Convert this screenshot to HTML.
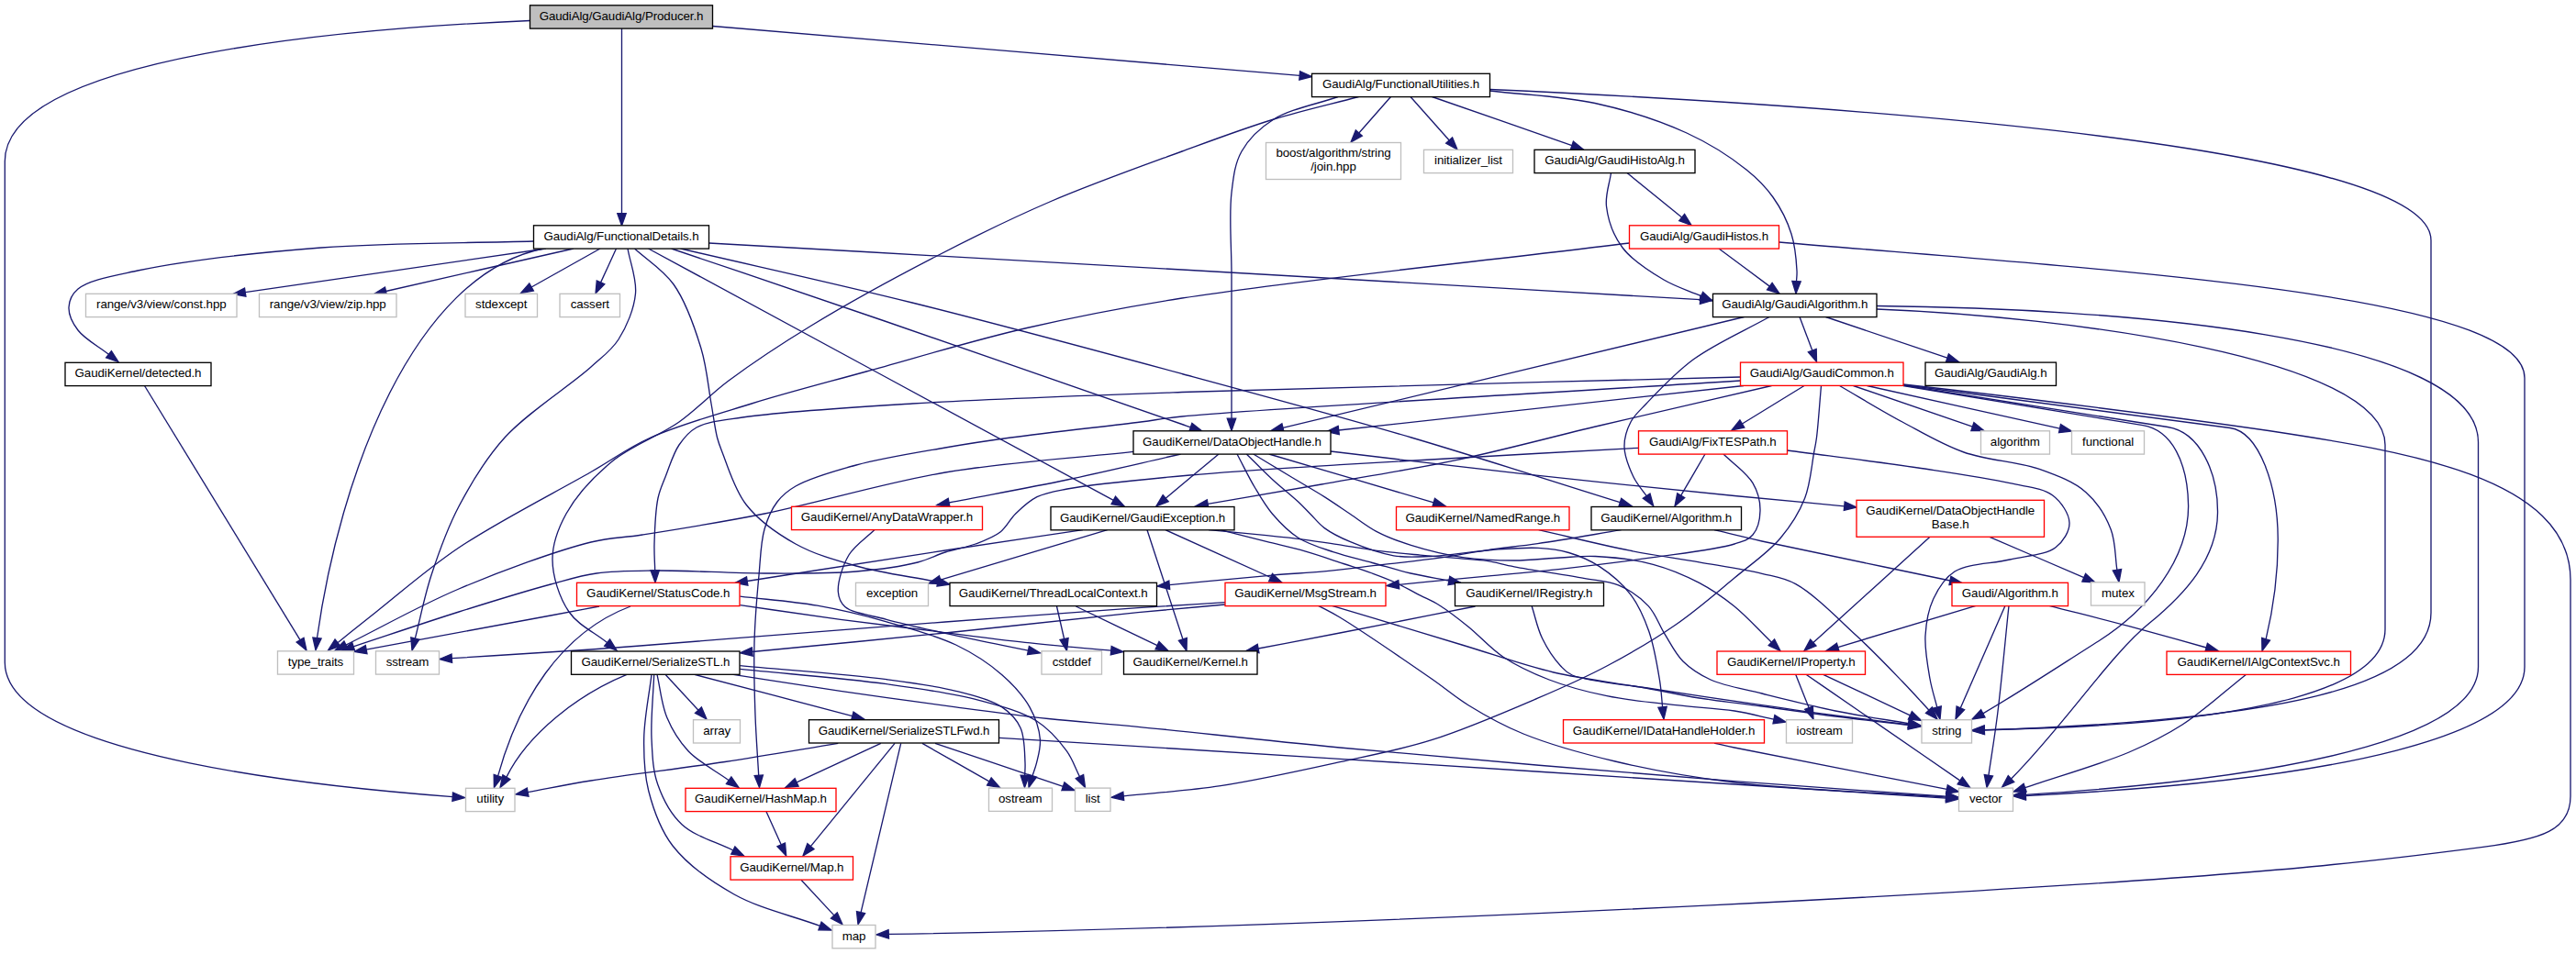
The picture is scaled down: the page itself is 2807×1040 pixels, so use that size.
<!DOCTYPE html>
<html><head><meta charset="utf-8"><title>GaudiAlg/GaudiAlg/Producer.h</title>
<style>
html,body{margin:0;padding:0;background:#fff;}
svg{display:block;}
text{font-family:"Liberation Sans",sans-serif;font-size:13.333px;fill:#000;stroke:none;letter-spacing:-0.1px;}
</style></head><body>
<svg width="2807" height="1040" viewBox="0 0 2807 1040">
<rect width="2807" height="1040" fill="#fff"/>
<g fill="none" stroke="#191970" stroke-width="1.333">
<path d="M577.5,22.5C393,30.4 5.3,60 5.3,176L5.3,722C5.3,828 380,860 493.2,868.6"/>
<path d="M677.5,31C677.5,98.2 677.5,165.4 677.5,232.7"/>
<path d="M776.5,28.5C989.7,46.5 1203,64.4 1416.2,82.4"/>
<path d="M581.5,263C504.3,265.3 424.2,264.3 350,270C280.8,275.4 198.1,284.7 150,295C122.1,301 96.6,305.2 85,315C78.4,320.6 75.3,327.9 75,335C74.7,342.8 79.2,352.3 85,360C92.3,369.7 107.3,377.5 118.5,386.3"/>
<path d="M595,271C485.7,286.9 376.5,302.7 267.2,318.6"/>
<path d="M625,271C556.8,286.5 488.7,302 420.5,317.5"/>
<path d="M654,271C629,285 604.1,299 579.1,313"/>
<path d="M671.5,271C665.9,283.3 660.2,295.6 654.6,307.9"/>
<path d="M592,271C450,300 370,520 345.5,695.5"/>
<path d="M684,271C686.8,287.3 694,303.8 692.5,320C691,336.8 682.8,356.2 674,370C666.1,382.3 657.2,388.1 644,400C621.7,420.2 574.9,449.5 550,477C528.6,500.7 513.5,526.3 500,552C487.2,576.4 478.1,602.3 470,627C462.4,650.3 458.2,673.1 452.3,696.1"/>
<path d="M691.5,271C705.7,284 722.4,293.6 734,310C747.4,328.8 757.1,357.2 764,380C770.2,400.4 771.8,422.4 775,440C777.5,453.8 779,467.3 781.5,477C783.2,483.5 784.3,486.1 787,493C792.3,506.3 800.2,533.6 813,550C826.4,567.2 847.1,581.9 867,593C887.1,604.2 909.1,610.4 933,617C960.2,624.6 992.3,628.6 1021.9,634.4"/>
<path d="M706.5,271C875.4,362.5 1044.4,453.9 1213.3,545.4"/>
<path d="M731.5,271C809,297.3 880.1,321.2 964,350C1063.1,384 1256.6,451.7 1288,462.5C1293.3,464.3 1294.3,464.6 1297.4,465.7"/>
<path d="M741.5,271C825.7,290.7 906.8,308.3 994,330C1088.4,353.5 1194.1,382.1 1288,407.5C1374.8,431 1456.8,453.1 1538,477C1615.7,499.9 1689.5,524.2 1765.3,547.7"/>
<path d="M772.5,265C944.3,274.7 1112.3,284 1288,294C1471.9,304.5 1664.5,315.8 1852.7,326.7"/>
<path d="M1480.5,105.5C1449.7,113.7 1419.2,120.4 1388,130C1355.1,140.1 1324.3,151.7 1288,165C1244.3,181 1189.9,200.3 1144,220C1100.5,238.7 1061.1,258.2 1019,280C974.5,303 924,330.6 884,355C850.5,375.4 819.8,395.8 794,415C773.2,430.5 760,445.9 740,460C718.1,475.5 687.9,485.7 667,503C647.2,519.4 627.9,540.4 617,560C608,576.3 601.9,592.8 602,610C602.1,628.4 609.5,651.7 620,667C629.9,681.5 647.8,689.4 661.6,700.6"/>
<path d="M1458,105.5C1434.7,113.7 1406.4,118.5 1388,130C1373,139.4 1360.7,151.4 1353,165C1345.6,178.2 1344.1,192.3 1342,210C1339,234.7 1342,266.7 1342,300C1342,341.5 1342,416.3 1342,440C1342,448 1342,450.8 1342,456.2"/>
<path d="M1515.5,105.5C1503.9,118.7 1492.4,131.8 1480.8,145"/>
<path d="M1537,105.5C1551.1,121.3 1565.1,137.2 1579.2,153"/>
<path d="M1560.5,105.5C1611.3,123.2 1662.1,140.9 1712.9,158.6"/>
<path d="M1623.5,99C1661.7,103.5 1701.5,104.5 1738,112.5C1772.9,120.1 1808.9,131.6 1838,145C1862.8,156.4 1886.3,171.6 1903,185C1915.4,194.9 1923.9,203.6 1932,215C1940.4,226.8 1947.7,241.3 1952,255C1956.1,268 1957.5,285.6 1958,295C1958.3,300 1957.7,302.8 1957.5,306.7"/>
<path d="M1623.5,97.5C1900,110 2649,150 2649,262L2649,668C2649,750 2480,785 2162.3,796"/>
<path d="M1773,188.5C1792.9,204.7 1812.8,220.9 1832.7,237.1"/>
<path d="M1755.5,188.5C1753.8,200.7 1749,212.4 1750.5,225C1752.2,239.4 1758.3,257 1768,270C1778.5,284.1 1797.8,296 1813,305C1826.4,313 1840.2,316.8 1853.8,322.7"/>
<path d="M1873,271C1891.4,284.7 1909.9,298.4 1928.3,312.1"/>
<path d="M1775.5,265C1613,285 1408.2,306.1 1288,325C1216.8,336.2 1175.6,344.4 1119,357.5C1060.9,370.9 997.4,390.3 944,405C898.8,417.5 859.2,427.6 819,440C781,451.7 740.3,462.9 709,477C683.8,488.3 669.9,499.6 644,514.5C605.4,536.7 541.5,569.1 500,597C465.6,620.1 434.3,647.8 410,667C393.3,680.2 381.9,689.4 367.9,700.7"/>
<path d="M1938.5,264C2300,295 2751,320 2751,412L2751,727C2751,800 2560,850 2207.3,867.5"/>
<path d="M1900.5,345.5C1733,385.8 1565.5,426.1 1398,466.4"/>
<path d="M1928,345.5C1900.3,361 1868.4,374.8 1845,392C1824.9,406.8 1806.2,427.2 1794,440C1786.5,447.9 1781,452.3 1777,460C1772.9,467.9 1769.8,477.6 1770,487C1770.2,497.5 1775.5,510.6 1780,520C1783.9,528 1789.4,533.8 1794.2,540.7"/>
<path d="M1961,345.5C1965.6,357.7 1970.2,369.9 1974.8,382"/>
<path d="M1989.5,345.5C2033.6,360.4 2077.7,375.3 2121.9,390.2"/>
<path d="M2045,333.5C2300,336 2700.5,365 2700.5,482L2700.5,727C2700.5,795 2540,845 2207.3,866.3"/>
<path d="M2045,337C2250,345 2599,390 2599,485L2599,686C2599,745 2480,790 2162.3,795.6"/>
<path d="M1896.5,411C1693.7,416.5 1454.3,421.7 1288,427.5C1172.4,431.5 1080.7,434.6 994,440C925.2,444.3 851,448.7 809,455C786.9,458.3 771.1,459.4 759,466C750.3,470.8 745.4,477.1 740,485C733.6,494.4 729.1,509.5 725,520C721.7,528.4 719,533.7 717,543C714.2,556.3 713.4,578.6 713,593C712.7,603.9 713.5,612.1 713.7,621.7"/>
<path d="M1896.5,415C1693.7,428 1374.7,445.5 1288,454C1264.4,456.3 1262.2,457.6 1243,460C1209,464.3 1140.7,471.6 1101.5,477C1073.6,480.8 1055.6,483.5 1030,488C1000.1,493.2 962,499.2 933,507C908.6,513.6 882.1,521.4 867,530C857.7,535.3 852.5,539.8 847,547C840.8,555.1 836.3,565.4 833,577C828.9,591.3 828.7,608.7 827,627C824.9,649 822.7,675.1 822,700C821.3,726 822.1,754.7 823,780C823.8,802.9 825.5,823.5 826.7,845.2"/>
<path d="M1900,420.5C1752.9,436.7 1605.8,452.9 1458.8,469"/>
<path d="M1930.5,420.5C1868,435 1802.6,449.9 1743,464C1688.5,476.9 1638,490.8 1586.6,501.6C1537.1,512 1486.8,519.7 1440,528C1397,535.6 1357.4,542.3 1316.1,549.4"/>
<path d="M1966,420.5C1943.5,434.3 1920.9,448.2 1898.4,462"/>
<path d="M1984.5,420.5C1982.8,439.3 1981.2,463.9 1979.5,477C1978.6,484 1978,486.2 1976.7,493C1974.4,505.1 1972.8,527.4 1966.7,543C1960.6,558.6 1951.6,573 1940,586.7C1926.8,602.3 1907.8,615.2 1890,630C1870.2,646.4 1849.1,665 1826.4,680.7C1802.8,697.1 1776.5,712.4 1751,726C1726.2,739.2 1703.5,749.2 1675.5,761.2C1641.3,775.9 1597.5,794.9 1560,806.7C1525.9,817.5 1495.6,822.9 1460,830.7C1419.6,839.6 1371.2,850.4 1330,856.7C1293.1,862.3 1259.5,864.2 1224.3,867.9"/>
<path d="M2004.5,420.5C2027.3,433.7 2050.1,447.8 2073,460C2095.3,471.9 2115.9,484.5 2140,493C2165.7,502.1 2199.3,503.2 2223,511.7C2242.2,518.6 2260,525.2 2273,536.7C2285.1,547.3 2294.4,562.3 2300,576.7C2305.5,590.6 2304.6,606.5 2306.9,621.3"/>
<path d="M2019.5,420.5C2062.8,435.4 2106.1,450.3 2149.4,465.2"/>
<path d="M2034.5,420.5C2104.5,436 2174.5,451.6 2244.5,467.1"/>
<path d="M2074,420.5L2335,463.7C2367,469 2384,505 2384.6,551.3C2385,610 2340,665 2287,698.7C2250,722 2200,755 2160.8,777.8"/>
<path d="M2074,420L2362,465.5C2397,471 2417,515 2416.5,559.3C2416,610 2380,648 2342.8,678.8C2300,713 2250,790 2191.5,849"/>
<path d="M2074,419.5L2430,466.5C2462,471 2482,530 2482.2,587.2C2482.4,630 2476,668 2469.1,696.8"/>
<path d="M2074,419C2200,433 2380,456 2472,469.5C2620,492 2801,520 2801,632L2801,868C2801,905 2770,915 2705.7,923.4C2640,932 2600,937 2542,942.5C2300,968 1500,1010 968.3,1018.4"/>
<path d="M1785.3,488.3C1676.9,494.4 1549.9,501 1460,506.7C1396.3,510.7 1348.4,513.3 1296.7,518C1249.9,522.2 1192.5,527.5 1163,533C1148.2,535.8 1139.6,536.9 1130,541.7C1121,546.2 1113.5,553.4 1106.7,560C1100.3,566.2 1096.9,574.6 1090,580C1082.6,585.8 1072.6,589.4 1063,593C1052.7,596.8 1040.7,598.6 1030,602C1019.7,605.3 1012.2,609.9 1000,613C982.3,617.5 957.6,620.9 933,623C903.1,625.5 867.9,625.1 833,625C794.8,624.9 746.6,621.6 713,622C688.6,622.3 669.7,622.2 650,625C632.2,627.5 619.4,631.8 600,637C572.3,644.5 534.4,656.2 500,667C463,678.7 423.4,692.2 385.2,704.8"/>
<path d="M1858,495C1849.2,510.1 1840.5,525.1 1831.7,540.2"/>
<path d="M1878,495C1888.7,505.6 1903.4,515.3 1910,526.7C1915.5,536.1 1918.2,547.1 1918,556.7C1917.8,565.8 1915.2,576.9 1910,583C1905.4,588.5 1899.4,590 1890,593C1871.2,599.1 1831.8,603.3 1801.3,607.7C1768.8,612.4 1732.3,616.8 1700.6,620.3C1672.3,623.4 1648,625.4 1620,628.1C1589.5,631 1556.2,634.2 1524.3,637.3"/>
<path d="M1947.3,491C1994.9,497.3 2046.7,503.5 2090,510C2126.3,515.5 2163.1,520.6 2190,526.7C2208.6,530.9 2225.7,531.6 2236.7,540C2246.1,547.1 2254.8,560.2 2255,570C2255.2,579.1 2248.4,590.2 2240,596.7C2229.1,605.2 2207.5,605.8 2190,610C2171,614.6 2144.3,614 2130,623C2118.7,630.1 2112,641.6 2106.7,653C2101.2,664.8 2098.8,679.1 2098,693C2097.2,708 2100.5,726 2103,740C2105,751.5 2108.2,760.7 2110.8,771.1"/>
<path d="M1235,492.3C1166.7,499.9 1097.3,503.6 1030,515C963.4,526.3 892.4,548.1 833,560C784.5,569.7 734.9,577.5 700,583C677.4,586.6 666.7,585.4 644,591C606.8,600.2 545.6,622.7 500,642C456.8,660.3 418,682.7 376.9,703.1"/>
<path d="M1286.7,495C1245.5,504.3 1204.7,514.2 1163,523C1120.5,531.9 1077.1,539.6 1034.1,548"/>
<path d="M1328,495C1308.7,511.1 1289.5,527.1 1270.2,543.2"/>
<path d="M1382.8,495C1442.6,512.6 1502.4,530.3 1562.2,547.9"/>
<path d="M1450,492C1520,500.2 1588.4,508.8 1660,516.7C1734.9,525 1825.7,534.2 1890,540.5C1936.4,545.1 1969.8,548 2009.7,551.8"/>
<path d="M1365.8,495C1379,503 1392.4,511.1 1405.5,519C1418.2,526.7 1431.6,534.3 1443.2,541.6C1453.4,548.1 1462.1,554.2 1471.5,560.5C1480.9,566.8 1489.4,573.8 1499.8,579.3C1511.2,585.3 1523.5,590 1537.5,594.4C1554.3,599.7 1575.1,604.8 1594,607.6C1612.6,610.3 1631.9,611 1650,611C1667.1,611 1684.4,608.8 1700,608C1713.6,607.3 1724.1,605.8 1738.4,606.5C1756.8,607.4 1781.8,610.1 1801.3,615.3C1819.3,620.1 1836.4,627.4 1851.6,635.4C1865.5,642.7 1876.9,650.6 1889.3,660.6C1903.2,671.8 1916.7,687 1930.4,700.2"/>
<path d="M1358.3,495C1367.7,504.2 1377,513.9 1386.6,522.7C1395.9,531.3 1407.4,540.2 1414.9,547.3C1420.2,552.3 1423.5,556 1428,560.5C1432.9,565.4 1436.9,571 1443.2,575.6C1450.9,581.3 1460.6,586.1 1471.5,590.7C1485,596.4 1503.5,603.3 1518.7,605.8C1532.3,608.1 1543.5,607.1 1558.4,606.5C1577.9,605.7 1604.8,601 1625.6,599.5C1643.6,598.2 1660.9,596.6 1675.9,597.4C1688.3,598.1 1698.5,599.3 1709.5,602.5C1720.9,605.9 1732.3,610.6 1743,617.6C1754.8,625.3 1767.6,636 1776.6,647.8C1785.5,659.5 1791.5,673.3 1796.7,688C1802.5,704.3 1806,726.5 1808.5,741.7C1810.3,752.8 1810.6,761.1 1811.6,770.7"/>
<path d="M1348,495C1354.6,507.3 1360.9,520.7 1367.7,532C1373.7,542.1 1378.8,551.2 1386.3,560C1394.3,569.4 1403.7,579.3 1414.6,586.2C1425.9,593.4 1440.1,597.4 1453.4,601.9C1467,606.5 1481.3,609.6 1495.3,613.5C1509.3,617.3 1523.2,621.7 1537.2,625C1551.1,628.2 1565,630.3 1578.9,633"/>
<path d="M953,577.5C943.7,586.7 931.6,594 925,605C918.2,616.4 912.6,634.7 913.3,645C913.8,651.8 915.7,656.9 920.8,661.4C929.1,668.6 948.9,670.7 966,675.3C987.9,681.2 1016.1,687.3 1041.6,692.9C1067.6,698.6 1094.2,703.7 1120.4,709.1"/>
<path d="M1250,577.7C1263,617.4 1275.9,657.1 1288.9,696.8"/>
<path d="M1270,577.7C1308.2,595 1346.4,612.2 1384.6,629.5"/>
<path d="M1180,577.7C1130,585.1 1084.5,591.7 1030,600C964.6,609.9 886.1,622.3 814.2,633.5"/>
<path d="M1206.7,577.7C1146.1,595.9 1085.4,614 1024.8,632.2"/>
<path d="M1330,577.7C1346.7,581.9 1364.1,586.4 1380,590.4C1394.6,594.1 1408,596.9 1421.9,600.9C1436,604.9 1450.9,610.2 1463.9,614.5C1475.1,618.2 1485.4,621.3 1495.3,625C1504.5,628.4 1512.9,631.5 1521.5,635.5C1530.3,639.6 1539.4,644.8 1547.7,649.1C1555.1,652.9 1561.2,655.3 1568.7,660C1578.3,666 1589.3,674.6 1600,683.2C1612.2,693 1623.6,706.6 1637.7,716C1652.7,726 1669.9,734 1688,741C1707.5,748.5 1728.9,754.2 1751,758.7C1774.8,763.6 1802.3,765.9 1826.4,768.7C1848.5,771.3 1870.9,772 1890,775C1905.8,777.5 1918.6,781.1 1933,784.2"/>
<path d="M1317,577.7C1338,579.7 1361.1,581.7 1380,583.6C1395.4,585.2 1407.9,586.5 1421.9,588.3C1435.9,590.1 1449.9,592.5 1463.9,594.6C1477.9,596.7 1491.8,599.1 1505.8,600.9C1519.7,602.6 1533.7,603.8 1547.7,605.1C1561.7,606.4 1576.8,607.6 1589.6,608.7C1600.5,609.7 1609.9,609.9 1620,611.4C1630.1,612.9 1637.7,615.5 1650,617.8C1669.5,621.5 1704.9,626.6 1725.8,630.4C1740.6,633.1 1751.9,633 1763.5,637.9C1775.4,642.9 1787.7,651.4 1796.2,660.6C1804.2,669.2 1807.6,680.8 1813.8,690.8C1820.2,701 1825.6,712.6 1834,721C1842.4,729.3 1851.9,735.5 1864,741C1879.3,747.9 1899.6,750.9 1920,756C1944.3,762.1 1973.3,769.5 2000,775C2026.5,780.4 2053.2,784.2 2079.9,788.7"/>
<path d="M1172.4,661C1201.9,675.2 1231.5,689.5 1261,703.7"/>
<path d="M1151.5,661C1154.2,672.8 1156.9,684.7 1159.6,696.5"/>
<path d="M806.4,650.1C834.5,653.5 863.4,655.4 890.6,660.2C916.6,664.8 941,670.7 966,677.8C991.4,685 1019.5,692.4 1041.6,703C1060.7,712.2 1078,723.5 1091.9,735.7C1104.1,746.4 1115,758.4 1122,770.9C1128.2,782 1132.5,795.2 1133.4,806.1C1134.1,815.1 1131.3,824.1 1129.6,831.3C1128.3,836.9 1126.5,841 1125,845.8"/>
<path d="M653,661C635.3,664.3 623.3,666.6 600,671C554.6,679.5 466.1,695.7 399.1,708.1"/>
<path d="M687,661C610,690 565,765 542.6,845.9"/>
<path d="M806.4,659.7C842.9,664.9 880.1,670.5 915.8,675.3C950,679.9 982.9,683.7 1016.4,687.9C1049.9,692.1 1084,696.8 1117,700.4C1148.8,703.9 1179.5,706.3 1210.7,709.2"/>
<path d="M1335,659C1303.3,661.9 1277.8,664 1240,667.7C1183.7,673.3 1100,682.9 1030,690C960,697.1 889.8,703.7 819.8,710.5"/>
<path d="M1335,656.7C1303.3,658.7 1277.9,660.1 1240,662.7C1183.7,666.5 1102.3,672.5 1030,678C952.7,683.8 860.1,691.3 790,696.7C735.3,700.9 693.1,704.5 644,708C593.9,711.5 542.9,714.4 492.3,717.7"/>
<path d="M1451.5,660.3C1498.7,674.5 1549.9,690 1593,703C1629.2,713.9 1659.4,725.1 1693,733C1726.1,740.7 1764.1,744.8 1793,750C1815.1,754 1831.3,757.8 1851.6,761C1873.5,764.5 1896.3,766.8 1920,770C1945.6,773.4 1973.3,777.6 2000,781C2026.6,784.4 2053.2,787.3 2079.8,790.4"/>
<path d="M1436.6,660.3C1444.4,664.5 1449.7,666.8 1460,673C1481.9,686.3 1534.3,722.2 1560,740C1576.4,751.4 1585,759.4 1600,768.7C1617.6,779.6 1637,790.6 1660,800C1688.6,811.6 1724.2,821.5 1760,830C1800.2,839.6 1840.3,846.9 1890,853C1955.8,861.1 2043.8,863.7 2120.7,869.1"/>
<path d="M1607.5,661C1558.3,670.7 1503,681.7 1460,690C1426.6,696.5 1400.7,701.3 1371.1,707"/>
<path d="M1669.2,661C1673,672.6 1675.2,684.9 1680.5,695.8C1685.7,706.6 1694.1,719 1700.6,726C1704.9,730.7 1706.5,733 1713.2,736C1728.9,743 1769.7,746 1801.3,751C1837.9,756.8 1884.3,763.5 1920,768.7C1949.3,773 1973.3,776.5 2000,780C2026.6,783.5 2053.2,786.6 2079.8,789.9"/>
<path d="M1868,577.7C1885.3,581.8 1896.9,584.8 1920,590C1965.7,600.2 2056.6,618.6 2125,633"/>
<path d="M1766.7,577.7C1736.3,582.7 1702.2,588.7 1675.5,592.6C1654.7,595.6 1638.1,597.1 1620,599.8C1602.5,602.4 1586.7,605.7 1568.7,608.2C1548.8,611 1526.8,613.1 1505.8,615.6C1484.8,618 1463.3,621 1442.9,622.9C1423.6,624.7 1408.3,625.2 1386.3,627.1C1355.3,629.7 1311.6,634.2 1274.3,637.7"/>
<path d="M1676.7,577.7C1709.8,585.2 1745.1,594.1 1776,600.2C1802.8,605.5 1827,608.5 1851.6,612.8C1875,616.9 1900.8,620.6 1920,625.3C1934.2,628.8 1943.5,629.4 1956.7,636.7C1976.6,647.6 2002.8,674.4 2023,693C2041.2,709.8 2058.7,728.2 2073,743C2084.1,754.5 2092.3,763.8 2101.9,774.2"/>
<path d="M2168,585.3C2202.3,600.1 2236.5,614.9 2270.8,629.7"/>
<path d="M2103,585.3C2060.6,623.7 2018.3,662.1 1975.9,700.5"/>
<path d="M2153,660.3C2102.9,675.4 2052.8,690.5 2002.8,705.6"/>
<path d="M2185,660.3C2168.8,697.5 2152.6,734.6 2136.3,771.8"/>
<path d="M2189,660.3C2184.9,699.5 2180.9,744.2 2176.7,778C2173.5,803.6 2170.2,822.9 2166.9,845.3"/>
<path d="M2233,660.3C2262,667.8 2291.3,675 2320,682.7C2348.3,690.3 2376.1,698.2 2404.2,706"/>
<path d="M1956.7,735.3C1961.5,747.4 1966.3,759.5 1971.1,771.6"/>
<path d="M1986.7,735.3C2018.3,750.1 2049.9,765 2081.4,779.8"/>
<path d="M1968,735.3C1988.7,749.5 2006.6,761.9 2030,778C2060.6,799.1 2100.5,826.6 2135.7,850.9"/>
<path d="M2447.6,735.2C2424.4,753.5 2400.8,775.3 2378,790C2358.4,802.6 2343,810.2 2320,820C2288.9,833.3 2244.4,845.8 2206.6,858.7"/>
<path d="M1868,810C1875.3,811.7 1878.8,812.6 1890,815C1926.3,822.7 2044.3,845.3 2121.4,860.4"/>
<path d="M716,735.3C719.6,750.9 720.8,767.8 726.7,782C732.3,795.5 739.7,807.7 750,818.7C761.5,831 779.5,840 794.2,850.7"/>
<path d="M712.7,735.3C711.8,758.5 709,783.7 710,805C710.9,823.1 711.2,839.4 716.7,855C722.2,870.7 730.4,887 743,898.7C756.9,911.7 780.2,917.6 798.8,927"/>
<path d="M756.7,735.3C814.1,750.4 871.4,765.5 928.8,780.6"/>
<path d="M725,735.3C737,748.3 749,761.2 761,774.2"/>
<path d="M806.4,729.4C859.6,734.8 919,739.2 966,745.7C1003.5,750.9 1037.4,755.5 1066.7,763.3C1090.4,769.6 1112.9,775.4 1129.6,786C1143.5,794.8 1154.2,807.6 1162.3,818.7C1168.9,827.9 1171.7,837.3 1176.5,846.6"/>
<path d="M710,735.3C707.2,758.5 702,782.9 701.7,805C701.4,824.9 701.9,843.1 706.7,862C711.9,882.2 719.2,904.1 733,922C748.8,942.4 774.5,960.7 800,975C827.5,990.4 862.3,997.9 893.5,1009.4"/>
<path d="M806.4,725.6C859.6,730.6 922.7,735.1 966,740.7C995.9,744.6 1019.2,747.6 1041.6,753.3C1060.3,758.1 1079.6,762.7 1091.9,770.9C1101.1,777.1 1107.8,784.2 1112,793.5C1116.8,803.9 1116.5,821.8 1117,831.3C1117.3,837 1116.8,840.5 1116.7,845.2"/>
<path d="M683,735.3C630,757 575,800 551.9,847.1"/>
<path d="M797.5,735.2C836.9,741.2 875.7,747.4 915.8,753.3C957.1,759.3 1002,765.6 1041.6,770.9C1077,775.6 1108.9,779.9 1142.2,783.5C1175,787 1200.9,788.5 1240,792.3C1298.7,798 1374.5,806.9 1460,815C1579.5,826.3 1768.8,842.2 1890,851.7C1978.7,858.6 2043.8,862.6 2120.7,868.1"/>
<path d="M959.8,810.4C929.2,824.6 898.7,838.7 868.1,852.9"/>
<path d="M975,810.4C944.5,847.8 914,885.2 883.4,922.7"/>
<path d="M1019,810.4C1065.5,826 1111.9,841.6 1158.4,857.3"/>
<path d="M981.7,810.4C967.2,871.8 952.6,933.3 938.1,994.7"/>
<path d="M1005,810.4C1029.3,824.2 1053.6,838.1 1077.9,851.9"/>
<path d="M913.3,810.4C872.2,817.1 832.9,824 790,830.5C743.4,837.6 683.6,844.6 644,851C616.7,855.4 598.1,859.4 575.1,863.6"/>
<path d="M1089,804.3C1139.3,807.4 1184.9,810.2 1240,813.6C1306.5,817.7 1374.5,821.9 1460,827.3C1579.5,834.9 1768.8,847.1 1890,855C1978.8,860.8 2043.8,865.1 2120.7,870.1"/>
<path d="M835,884.7C840.4,896.7 845.8,908.8 851.2,920.8"/>
<path d="M873,959.3C885,972.2 896.9,985.1 908.9,997.9"/>
<path d="M157.5,420.5C214,512.9 270.5,605.3 327,697.6"/>
</g>
<g fill="#191970" stroke="#191970" stroke-width="1.333">
<polygon points="492.9,873.3 506.5,869.5 493.5,863.9"/>
<polygon points="672.8,232.7 677.5,246 682.2,232.7"/>
<polygon points="1415.8,87 1429.5,83.5 1416.6,77.7"/>
<polygon points="115.6,389.9 129,394.5 121.4,382.6"/>
<polygon points="266.5,314 254,320.5 267.9,323.2"/>
<polygon points="419.5,313 407.5,320.5 421.5,322.1"/>
<polygon points="576.8,308.9 567.5,319.5 581.4,317.1"/>
<polygon points="650.3,305.9 649,320 658.8,309.8"/>
<polygon points="340.9,695 344,708.7 350.1,696"/>
<polygon points="447.8,694.9 449,709 456.8,697.2"/>
<polygon points="1021,639 1035,637 1022.8,629.9"/>
<polygon points="1211.1,549.5 1225,551.7 1215.5,541.2"/>
<polygon points="1295.9,470.1 1310,470 1298.9,461.3"/>
<polygon points="1763.9,552.2 1778,551.7 1766.7,543.3"/>
<polygon points="1852.4,331.4 1866,327.5 1853,322.1"/>
<polygon points="658.7,704.3 672,709 664.6,697"/>
<polygon points="1337.3,456.2 1342,469.5 1346.7,456.2"/>
<polygon points="1477.3,141.9 1472,155 1484.3,148.1"/>
<polygon points="1575.7,156.1 1588,163 1582.6,149.9"/>
<polygon points="1711.4,163 1725.5,163 1714.4,154.2"/>
<polygon points="1952.9,306.5 1957,320 1962.2,306.9"/>
<polygon points="2162.1,791.3 2149,796.7 2162.5,800.7"/>
<polygon points="1829.7,240.7 1843,245.5 1835.6,233.5"/>
<polygon points="1851.9,327 1866,328 1855.6,318.4"/>
<polygon points="1925.5,315.8 1939,320 1931.1,308.3"/>
<polygon points="365,697 357.5,709 370.8,704.3"/>
<polygon points="2207.1,862.8 2194,868 2207.5,872.2"/>
<polygon points="1396.9,461.8 1385,469.5 1399.1,470.9"/>
<polygon points="1790.3,543.3 1801.7,551.7 1798,538.1"/>
<polygon points="1970.4,383.7 1979.5,394.5 1979.2,380.4"/>
<polygon points="2120.4,394.7 2134.5,394.5 2123.4,385.8"/>
<polygon points="2207.1,861.6 2194,867 2207.5,871"/>
<polygon points="2162.2,790.9 2149,796 2162.4,800.3"/>
<polygon points="709,621.8 714,635 718.4,621.6"/>
<polygon points="822.1,845.5 827.5,858.5 831.4,844.9"/>
<polygon points="1458.2,464.4 1445.5,470.5 1459.3,473.7"/>
<polygon points="1315.3,544.8 1303,551.7 1316.9,554"/>
<polygon points="1895.9,458 1887,469 1900.8,466"/>
<polygon points="1223.8,863.3 1211,869.3 1224.7,872.5"/>
<polygon points="2302.3,622 2309,634.5 2311.6,620.6"/>
<polygon points="2147.9,469.6 2162,469.5 2150.9,460.7"/>
<polygon points="2243.5,471.7 2257.5,470 2245.5,462.6"/>
<polygon points="2158.6,773.7 2149,784 2163,781.9"/>
<polygon points="2188.3,845.6 2181.7,858 2194.7,852.4"/>
<polygon points="2464.7,695.4 2465,709.5 2473.5,698.2"/>
<polygon points="968.1,1013.7 955,1019 968.5,1023.1"/>
<polygon points="383.7,700.4 372.5,709 386.6,709.3"/>
<polygon points="1827.7,537.8 1825,551.7 1835.7,542.5"/>
<polygon points="1523.8,632.7 1511,638.6 1524.7,642"/>
<polygon points="2106.2,772.2 2114,784 2115.3,769.9"/>
<polygon points="374.9,698.9 365,709 379,707.3"/>
<polygon points="1033.2,543.4 1021,550.5 1035,552.6"/>
<polygon points="1267.2,539.6 1260,551.7 1273.2,546.8"/>
<polygon points="1560.9,552.4 1575,551.7 1563.5,543.4"/>
<polygon points="2009.3,556.4 2023,553 2010.2,547.1"/>
<polygon points="1927.2,703.6 1940,709.5 1933.6,696.9"/>
<polygon points="1806.9,771.2 1813,784 1816.2,770.3"/>
<polygon points="1578,637.6 1592,635.5 1579.8,628.4"/>
<polygon points="1119.5,713.7 1133.5,711.8 1121.4,704.5"/>
<polygon points="1284.4,698.3 1293,709.5 1293.3,695.4"/>
<polygon points="1382.6,633.8 1396.7,635 1386.5,625.3"/>
<polygon points="813.5,628.8 801,635.5 814.9,638.1"/>
<polygon points="1023.4,627.7 1012,636 1026.1,636.7"/>
<polygon points="1932,788.8 1946,787 1933.9,779.6"/>
<polygon points="2079.1,793.3 2093,791 2080.7,784.1"/>
<polygon points="1259,707.9 1273,709.5 1263,699.5"/>
<polygon points="1155,697.5 1162.5,709.5 1164.1,695.5"/>
<polygon points="1120.6,844.4 1121,858.5 1129.5,847.2"/>
<polygon points="398.3,703.5 386,710.5 400,712.7"/>
<polygon points="538.2,844.4 538.4,858.6 547,847.4"/>
<polygon points="1210.3,713.9 1224,710.5 1211.2,704.6"/>
<polygon points="819.3,705.9 806.5,711.8 820.2,715.2"/>
<polygon points="492,713 479,718.5 492.6,722.3"/>
<polygon points="2079.2,795.1 2093,792 2080.3,785.8"/>
<polygon points="2120.4,873.7 2134,870 2121,864.4"/>
<polygon points="1370.2,702.4 1358,709.5 1372,711.6"/>
<polygon points="2079.2,794.5 2093,791.5 2080.3,785.2"/>
<polygon points="2124,637.5 2138,635.7 2125.9,628.4"/>
<polygon points="1273.8,633.1 1261,639 1274.7,642.4"/>
<polygon points="2098.5,777.4 2111,784 2105.4,771"/>
<polygon points="2268.9,634 2283,635 2272.6,625.4"/>
<polygon points="1972.7,697.1 1966,709.5 1979,704"/>
<polygon points="2001.4,701.2 1990,709.5 2004.1,710.1"/>
<polygon points="2132.1,769.9 2131,784 2140.6,773.7"/>
<polygon points="2162.3,844.6 2165,858.5 2171.5,846"/>
<polygon points="2402.9,710.5 2417,709.5 2405.4,701.4"/>
<polygon points="1966.7,773.3 1976,784 1975.4,769.9"/>
<polygon points="2079.4,784.1 2093.5,785.5 2083.4,775.6"/>
<polygon points="2133.1,854.8 2146.7,858.5 2138.4,847.1"/>
<polygon points="2205.1,854.3 2194,863 2208.1,863.1"/>
<polygon points="2120.5,865 2134.5,863 2122.3,855.8"/>
<polygon points="791.5,854.5 805,858.5 796.9,846.9"/>
<polygon points="796.7,931.1 810.7,933 800.9,922.8"/>
<polygon points="927.6,785.1 941.7,784 930,776.1"/>
<polygon points="757.5,777.4 770,784 764.4,771"/>
<polygon points="1172.3,848.7 1182.5,858.5 1180.6,844.5"/>
<polygon points="891.9,1013.8 906,1014 895.1,1005"/>
<polygon points="1112.1,845.1 1116.5,858.5 1121.4,845.3"/>
<polygon points="547.9,844.7 545,858.5 555.9,849.5"/>
<polygon points="2120.4,872.7 2134,869 2121,863.4"/>
<polygon points="866.1,848.7 856,858.5 870.1,857.1"/>
<polygon points="879.8,919.7 875,933 887,925.6"/>
<polygon points="1156.9,861.7 1171,861.5 1159.9,852.8"/>
<polygon points="933.5,993.7 935,1007.7 942.6,995.8"/>
<polygon points="1075.6,856 1089.5,858.5 1080.2,847.8"/>
<polygon points="574.3,859 562,866 576,868.2"/>
<polygon points="2120.4,874.8 2134,871 2121,865.5"/>
<polygon points="847,922.8 856.7,933 855.5,918.9"/>
<polygon points="905.5,1001.1 918,1007.7 912.3,994.8"/>
<polygon points="323.1,700.1 334,709 331,695.2"/>
</g>
<g stroke-width="1.333" text-anchor="middle">
<rect x="577.5" y="5.8" width="199" height="25.3" fill="#bfbfbf" stroke="#000"/>
<text x="677" y="21.9">GaudiAlg/GaudiAlg/Producer.h</text>
<rect x="1429.5" y="80.3" width="194" height="25.3" fill="#fff" stroke="#000"/>
<text x="1526.5" y="96.4">GaudiAlg/FunctionalUtilities.h</text>
<rect x="1379.5" y="155.5" width="147" height="40" fill="#fff" stroke="#bfbfbf"/>
<text x="1453" y="171">boost/algorithm/string</text>
<text x="1453" y="186.1">/join.hpp</text>
<rect x="1551.5" y="163.3" width="97" height="25.3" fill="#fff" stroke="#bfbfbf"/>
<text x="1600" y="179.4">initializer_list</text>
<rect x="1672" y="163.3" width="175" height="25.3" fill="#fff" stroke="#000"/>
<text x="1759.5" y="179.4">GaudiAlg/GaudiHistoAlg.h</text>
<rect x="581.5" y="245.8" width="191" height="25.3" fill="#fff" stroke="#000"/>
<text x="677" y="261.9">GaudiAlg/FunctionalDetails.h</text>
<rect x="1775.5" y="245.8" width="163" height="25.3" fill="#fff" stroke="#f00"/>
<text x="1857" y="261.9">GaudiAlg/GaudiHistos.h</text>
<rect x="93.5" y="320.3" width="164.5" height="25.3" fill="#fff" stroke="#bfbfbf"/>
<text x="175.8" y="336.4">range/v3/view/const.hpp</text>
<rect x="282.5" y="320.3" width="149.5" height="25.3" fill="#fff" stroke="#bfbfbf"/>
<text x="357.2" y="336.4">range/v3/view/zip.hpp</text>
<rect x="507" y="320.3" width="78.5" height="25.3" fill="#fff" stroke="#bfbfbf"/>
<text x="546.2" y="336.4">stdexcept</text>
<rect x="610" y="320.3" width="65.5" height="25.3" fill="#fff" stroke="#bfbfbf"/>
<text x="642.8" y="336.4">cassert</text>
<rect x="1866.5" y="320.3" width="178.5" height="25.3" fill="#fff" stroke="#000"/>
<text x="1955.8" y="336.4">GaudiAlg/GaudiAlgorithm.h</text>
<rect x="71" y="395.3" width="159" height="25.3" fill="#fff" stroke="#000"/>
<text x="150.5" y="411.4">GaudiKernel/detected.h</text>
<rect x="1896.5" y="395.1" width="177.5" height="25.3" fill="#fff" stroke="#f00"/>
<text x="1985.2" y="411.1">GaudiAlg/GaudiCommon.h</text>
<rect x="2098" y="395.1" width="142.5" height="25.3" fill="#fff" stroke="#000"/>
<text x="2169.2" y="411.1">GaudiAlg/GaudiAlg.h</text>
<rect x="1235" y="469.8" width="215" height="25.3" fill="#fff" stroke="#000"/>
<text x="1342.5" y="485.9">GaudiKernel/DataObjectHandle.h</text>
<rect x="1785.5" y="469.8" width="162" height="25.3" fill="#fff" stroke="#f00"/>
<text x="1866.3" y="485.9">GaudiAlg/FixTESPath.h</text>
<rect x="2158.5" y="469.8" width="75" height="25.3" fill="#fff" stroke="#bfbfbf"/>
<text x="2195.8" y="485.9">algorithm</text>
<rect x="2257.5" y="469.8" width="79" height="25.3" fill="#fff" stroke="#bfbfbf"/>
<text x="2297.1" y="485.9">functional</text>
<rect x="862.5" y="552.3" width="208" height="25.3" fill="#fff" stroke="#f00"/>
<text x="966.5" y="568.4">GaudiKernel/AnyDataWrapper.h</text>
<rect x="1145" y="552.5" width="200" height="25.3" fill="#fff" stroke="#000"/>
<text x="1245" y="568.6">GaudiKernel/GaudiException.h</text>
<rect x="1521.5" y="552.5" width="188.5" height="25.3" fill="#fff" stroke="#f00"/>
<text x="1615.8" y="568.6">GaudiKernel/NamedRange.h</text>
<rect x="1734" y="552.5" width="163.5" height="25.3" fill="#fff" stroke="#000"/>
<text x="1815.7" y="568.6">GaudiKernel/Algorithm.h</text>
<rect x="2023" y="545.3" width="204.5" height="40" fill="#fff" stroke="#f00"/>
<text x="2125.2" y="560.8">GaudiKernel/DataObjectHandle</text>
<text x="2125.2" y="575.9">Base.h</text>
<rect x="628.5" y="635.3" width="177.5" height="25.3" fill="#fff" stroke="#f00"/>
<text x="717.2" y="651.4">GaudiKernel/StatusCode.h</text>
<rect x="932.5" y="635.3" width="79" height="25.3" fill="#fff" stroke="#bfbfbf"/>
<text x="972" y="651.4">exception</text>
<rect x="1035" y="635.3" width="225.5" height="25.3" fill="#fff" stroke="#000"/>
<text x="1147.7" y="651.4">GaudiKernel/ThreadLocalContext.h</text>
<rect x="1335" y="635.3" width="175" height="25.3" fill="#fff" stroke="#f00"/>
<text x="1422.5" y="651.4">GaudiKernel/MsgStream.h</text>
<rect x="1585.5" y="635.3" width="162" height="25.3" fill="#fff" stroke="#000"/>
<text x="1666.3" y="651.4">GaudiKernel/IRegistry.h</text>
<rect x="2127" y="635.3" width="126.5" height="25.3" fill="#fff" stroke="#f00"/>
<text x="2190.3" y="651.4">Gaudi/Algorithm.h</text>
<rect x="2278.5" y="634.8" width="58.5" height="25.3" fill="#fff" stroke="#bfbfbf"/>
<text x="2307.9" y="650.9">mutex</text>
<rect x="302.5" y="709.8" width="83" height="25.3" fill="#fff" stroke="#bfbfbf"/>
<text x="344" y="725.9">type_traits</text>
<rect x="409.5" y="709.8" width="69" height="25.3" fill="#fff" stroke="#bfbfbf"/>
<text x="444" y="725.9">sstream</text>
<rect x="622.5" y="710" width="183.5" height="25.3" fill="#fff" stroke="#000"/>
<text x="714.4" y="726">GaudiKernel/SerializeSTL.h</text>
<rect x="1135" y="709.8" width="65.5" height="25.3" fill="#fff" stroke="#bfbfbf"/>
<text x="1167.8" y="725.9">cstddef</text>
<rect x="1224.5" y="709.8" width="145.5" height="25.3" fill="#fff" stroke="#000"/>
<text x="1297.2" y="725.9">GaudiKernel/Kernel.h</text>
<rect x="1871" y="710" width="161.5" height="25.3" fill="#fff" stroke="#f00"/>
<text x="1951.8" y="726">GaudiKernel/IProperty.h</text>
<rect x="2361" y="710.1" width="200.5" height="25.3" fill="#fff" stroke="#f00"/>
<text x="2461.2" y="726.1">GaudiKernel/IAlgContextSvc.h</text>
<rect x="755.5" y="784.7" width="51" height="25.3" fill="#fff" stroke="#bfbfbf"/>
<text x="781.2" y="800.8">array</text>
<rect x="881.5" y="784.7" width="207" height="25.3" fill="#fff" stroke="#000"/>
<text x="985" y="800.8">GaudiKernel/SerializeSTLFwd.h</text>
<rect x="1703.5" y="784.7" width="219" height="25.3" fill="#fff" stroke="#f00"/>
<text x="1813" y="800.8">GaudiKernel/IDataHandleHolder.h</text>
<rect x="1946.5" y="784.7" width="72" height="25.3" fill="#fff" stroke="#bfbfbf"/>
<text x="1982.7" y="800.8">iostream</text>
<rect x="2094" y="784.7" width="54.5" height="25.3" fill="#fff" stroke="#bfbfbf"/>
<text x="2121.3" y="800.8">string</text>
<rect x="507.5" y="859.3" width="53.5" height="25.3" fill="#fff" stroke="#bfbfbf"/>
<text x="534.2" y="875.4">utility</text>
<rect x="747" y="859.3" width="164" height="25.3" fill="#fff" stroke="#f00"/>
<text x="829" y="875.4">GaudiKernel/HashMap.h</text>
<rect x="1077.5" y="859.1" width="69" height="25.3" fill="#fff" stroke="#bfbfbf"/>
<text x="1111.8" y="875.2">ostream</text>
<rect x="1171.5" y="859.1" width="38.5" height="25.3" fill="#fff" stroke="#bfbfbf"/>
<text x="1190.7" y="875.2">list</text>
<rect x="2134.5" y="859.1" width="59" height="25.3" fill="#fff" stroke="#bfbfbf"/>
<text x="2163.8" y="875.2">vector</text>
<rect x="796" y="933.8" width="133.5" height="25.3" fill="#fff" stroke="#f00"/>
<text x="862.8" y="949.9">GaudiKernel/Map.h</text>
<rect x="907" y="1008.5" width="47" height="25.3" fill="#fff" stroke="#bfbfbf"/>
<text x="930.5" y="1024.5">map</text>
</g>
</svg>
</body></html>
